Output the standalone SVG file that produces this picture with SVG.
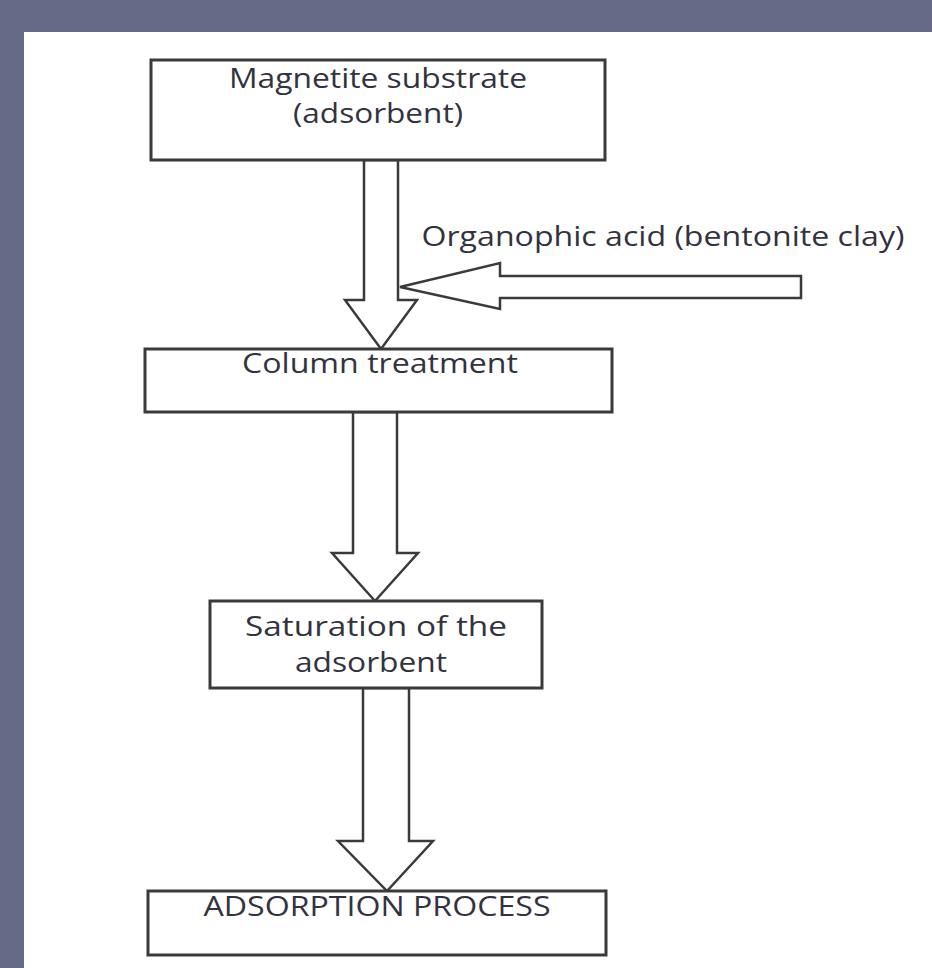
<svg xmlns="http://www.w3.org/2000/svg" width="932" height="968" viewBox="0 0 932 968">
<style>
.box{fill:#fff;stroke:#3a3a3a;stroke-width:3}
.arr{fill:#fff;stroke:#3a3a3a;stroke-width:2.5;stroke-linejoin:miter}
text{font-family:"Open Sans","Liberation Sans",sans-serif;font-size:28px;fill:#333340;text-anchor:middle}
</style>
<rect x="0" y="0" width="932" height="968" fill="#656a86"/>
<rect x="24" y="32" width="908" height="936" fill="#ffffff"/>
<g id="connectors">
<polygon class="arr" points="364,160 398,160 398,300 417,300 381,349 345,300 364,300"/>
<polygon class="arr" points="801,276 801,298 500,298 500,309 400,287 500,263 500,276"/>
<polygon class="arr" points="353,412 397,412 397,553 418,553 375,601 332,553 353,553"/>
<polygon class="arr" points="363,688 409,688 409,841 433,841 387,891 338,841 363,841"/>
</g>
<g id="magnetite">
<rect class="box" x="151" y="60" width="454" height="100"/>
<text x="378" y="88" textLength="298" lengthAdjust="spacingAndGlyphs">Magnetite substrate</text>
<text x="378" y="123" textLength="170" lengthAdjust="spacingAndGlyphs">(adsorbent)</text>
</g>
<g id="organophic">
<text x="663" y="246" textLength="483" lengthAdjust="spacingAndGlyphs">Organophic acid (bentonite clay)</text>
</g>
<g id="column">
<rect class="box" x="145" y="349" width="467" height="63"/>
<text x="380" y="373" textLength="276" lengthAdjust="spacingAndGlyphs">Column treatment</text>
</g>
<g id="saturation">
<rect class="box" x="210" y="601" width="332" height="87"/>
<text x="376" y="636" textLength="262" lengthAdjust="spacingAndGlyphs">Saturation of the</text>
<text x="371" y="672" textLength="152" lengthAdjust="spacingAndGlyphs">adsorbent</text>
</g>
<g id="adsorption">
<rect class="box" x="148" y="891" width="458" height="64"/>
<text x="377" y="916" textLength="347" lengthAdjust="spacingAndGlyphs">ADSORPTION PROCESS</text>
</g>
</svg>
